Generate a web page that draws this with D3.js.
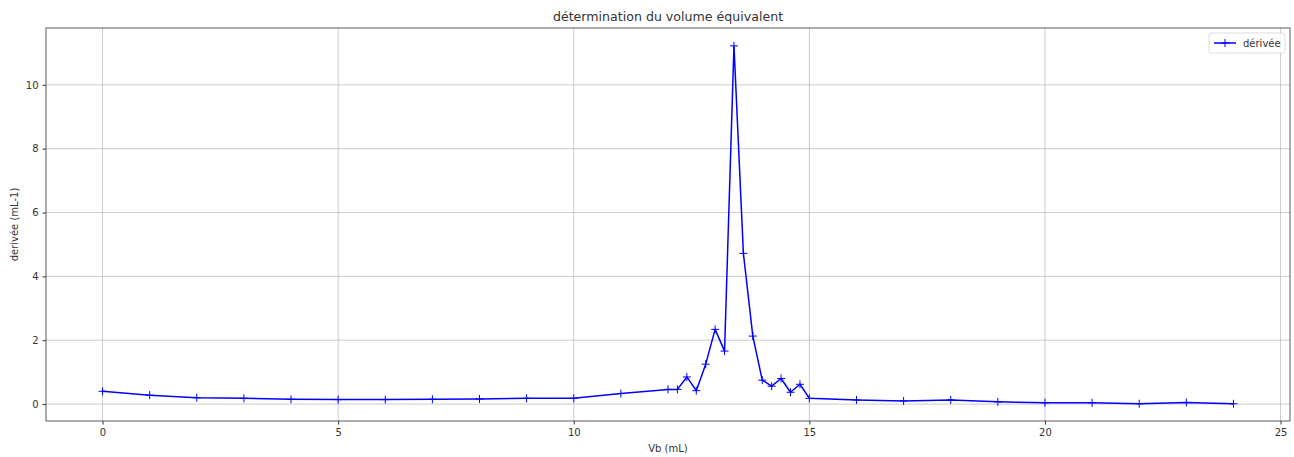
<!DOCTYPE html>
<html>
<head>
<meta charset="utf-8">
<script src="https://cdn.jsdelivr.net/npm/d3@7"></script>
<style>
  body { margin: 0; background: #fff; }
  svg text { font-family: "DejaVu Sans", sans-serif; fill: #333; }
</style>
</head>
<body>
<div id="chart"></div>
<script>
// data
const vb = [0, 1, 2, 3, 4, 5, 6, 7, 8, 9, 10, 11, 12, 12.2, 12.4, 12.6, 12.8, 13.0, 13.2, 13.4,
  13.6, 13.8, 14.0, 14.2, 14.4, 14.6, 14.8, 15, 16, 17, 18, 19, 20, 21, 22, 23, 24];
const derivee = [0.40, 0.28, 0.20, 0.18, 0.15, 0.14, 0.14, 0.15, 0.16, 0.18, 0.18, 0.33, 0.46, 0.46,
  0.85, 0.42, 1.25, 2.34, 1.66, 11.22, 4.72, 2.13, 0.75, 0.56, 0.80, 0.37, 0.62,
  0.18, 0.13, 0.10, 0.13, 0.07, 0.04, 0.04, 0.01, 0.05, 0.01];
const xTicks = [0, 5, 10, 15, 20, 25];
const yTicks = [0, 2, 4, 6, 8, 10];

const title = 'détermination du volume équivalent';
const xLabel = 'Vb (mL)';
const yLabel = 'derivée (mL-1)';
const seriesName = 'dérivée';

const width = 1294;
const height = 457;
const margin = { top: 28, right: 4, bottom: 36, left: 46 };

const svg = d3.select('#chart').append('svg')
  .attr('width', width)
  .attr('height', height);

const xScale = d3.scaleLinear()
  .domain([-1.2, 25.2])
  .range([margin.left, width - margin.right]);

const yScale = d3.scaleLinear()
  .domain([-0.53, 11.78])
  .range([height - margin.bottom, margin.top]);

// grid
svg.append('g')
  .selectAll('line.vgrid')
  .data(xTicks)
  .enter().append('line')
    .attr('x1', d => xScale(d)).attr('x2', d => xScale(d))
    .attr('y1', margin.top).attr('y2', height - margin.bottom)
    .attr('stroke', '#b0b0b0').attr('stroke-width', 0.8).attr('opacity', 0.8);

svg.append('g')
  .selectAll('line.hgrid')
  .data(yTicks)
  .enter().append('line')
    .attr('x1', margin.left).attr('x2', width - margin.right)
    .attr('y1', d => yScale(d)).attr('y2', d => yScale(d))
    .attr('stroke', '#b0b0b0').attr('stroke-width', 0.8).attr('opacity', 0.8);

// axes
const xAxis = svg.append('g')
  .attr('transform', `translate(0,${height - margin.bottom})`)
  .call(d3.axisBottom(xScale).tickValues(xTicks).tickSize(3.5).tickPadding(4));

const yAxis = svg.append('g')
  .attr('transform', `translate(${margin.left},0)`)
  .call(d3.axisLeft(yScale).tickValues(yTicks).tickSize(3.5).tickPadding(4));

[xAxis, yAxis].forEach(a => {
  a.select('.domain').remove();
  a.selectAll('line').attr('stroke', '#333');
  a.selectAll('text').attr('font-size', 10).style('fill', '#333');
});

// frame
svg.append('rect')
  .attr('x', margin.left).attr('y', margin.top)
  .attr('width', width - margin.left - margin.right)
  .attr('height', height - margin.top - margin.bottom)
  .attr('fill', 'none').attr('stroke', '#333').attr('stroke-width', 0.8);

// line
const pts = vb.map((v, i) => [v, derivee[i]]);
const line = d3.line()
  .x(d => xScale(d[0]))
  .y(d => yScale(d[1]));

svg.append('path')
  .datum(pts)
  .attr('d', line)
  .attr('fill', 'none')
  .attr('stroke', '#0000ff')
  .attr('stroke-width', 1.5)
  .attr('stroke-linejoin', 'round');

// + markers
const m = 4;
svg.append('g')
  .selectAll('path')
  .data(pts)
  .enter().append('path')
    .attr('d', d => {
      const x = xScale(d[0]), y = yScale(d[1]);
      return `M${x - m},${y}H${x + m}M${x},${y - m}V${y + m}`;
    })
    .attr('stroke', '#0000ff')
    .attr('stroke-width', 1);

// texts
svg.append('text')
  .attr('x', (margin.left + width - margin.right) / 2)
  .attr('y', 21)
  .attr('text-anchor', 'middle')
  .attr('font-size', 12.6)
  .text(title);

svg.append('text')
  .attr('x', (margin.left + width - margin.right) / 2)
  .attr('y', 452)
  .attr('text-anchor', 'middle')
  .attr('font-size', 10)
  .text(xLabel);

svg.append('text')
  .attr('transform', `translate(18,${(margin.top + height - margin.bottom) / 2}) rotate(-90)`)
  .attr('text-anchor', 'middle')
  .attr('font-size', 10)
  .text(yLabel);

// legend
const legend = svg.append('g').attr('transform', 'translate(1209,33)');
legend.append('rect')
  .attr('width', 76).attr('height', 20).attr('rx', 2)
  .attr('fill', '#fff').attr('fill-opacity', 0.8)
  .attr('stroke', '#ddd');
legend.append('line')
  .attr('x1', 5).attr('x2', 27).attr('y1', 10).attr('y2', 10)
  .attr('stroke', '#0000ff').attr('stroke-width', 1.5);
legend.append('path')
  .attr('d', `M${16 - m},10H${16 + m}M16,${10 - m}V${10 + m}`)
  .attr('stroke', '#0000ff').attr('stroke-width', 1);
legend.append('text')
  .attr('x', 34).attr('y', 14)
  .attr('font-size', 10)
  .text(seriesName);
</script>
</body>
</html>
